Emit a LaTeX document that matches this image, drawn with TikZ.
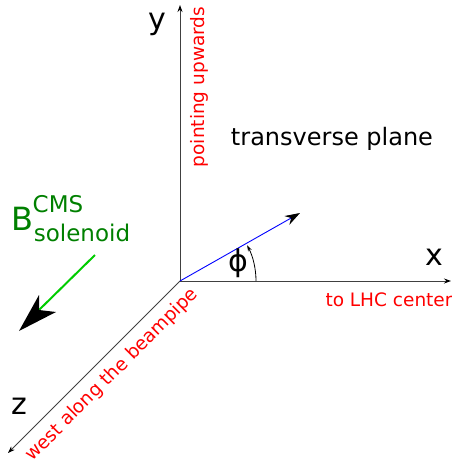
\documentclass[tikz,border=0pt]{standalone}
\usepackage{fontspec}
\setmainfont{DejaVu Sans}
\usetikzlibrary{arrows.meta}
\begin{document}
\begin{tikzpicture}[x=1pt,y=-1pt,
  axis/.style={draw=black!75,line width=0.9pt,-{Stealth[length=7pt,width=5pt,black]}},
  redlbl/.style={text=red,font=\fontsize{18.5}{20}\selectfont,inner sep=0pt},
  axlbl/.style={font=\fontsize{30}{34}\selectfont,inner sep=0pt},
  grnlbl/.style={text=green!50!black,font=\fontsize{23}{26}\selectfont,inner sep=0pt}]
\useasboundingbox (0,0) rectangle (451,459);
\coordinate (O) at (180,281);
\coordinate (Y) at (180,5);
\coordinate (X) at (451,281);
\coordinate (Z) at (8,453);
\coordinate (V) at (300,213);
\draw[axis] (O) -- (Y);
\draw[axis] (O) -- (X);
\draw[axis] (O) -- (Z);
\draw[blue,line width=0.9pt,-{Stealth[length=15pt,width=10pt,black]}] (O) -- (V);
\draw[line width=0.8pt,-{Stealth[length=6pt,width=4pt]}] ([shift={(0:76)}]O) arc[start angle=0,end angle=-28,radius=76];
\node[axlbl] (phi) at (238,263) {ϕ};
\node[axlbl] (xl) at (434,257) {x};
\node[axlbl] (yl) at (157,24) {y};
\node[axlbl] (zl) at (19,406) {z};
\node[font=\fontsize{24}{28}\selectfont,inner sep=0pt] (tp) at (332,139) {transverse plane};
\node[redlbl,rotate=90] (pu) at (199,87) {pointing upwards};
\node[redlbl] (lhc) at (389,300) {to LHC center};
\node[redlbl,rotate=45] (wb) at (112,375) {west along the beampipe};
\node[text=green!50!black,font=\fontsize{32}{36}\selectfont,inner sep=0pt] (B) at (22,219) {B};
\node[grnlbl] (cms) at (58,204) {CMS};
\node[grnlbl] (sol) at (82,233) {solenoid};
\coordinate (g1) at (95,255);
\coordinate (g2) at (39,310);
\draw[green!80!black,line width=2pt] (g1) -- (g2);
\fill[black] (19,331) -- (39,295) -- (g2) -- (56,312) -- cycle;
\end{tikzpicture}
\end{document}
